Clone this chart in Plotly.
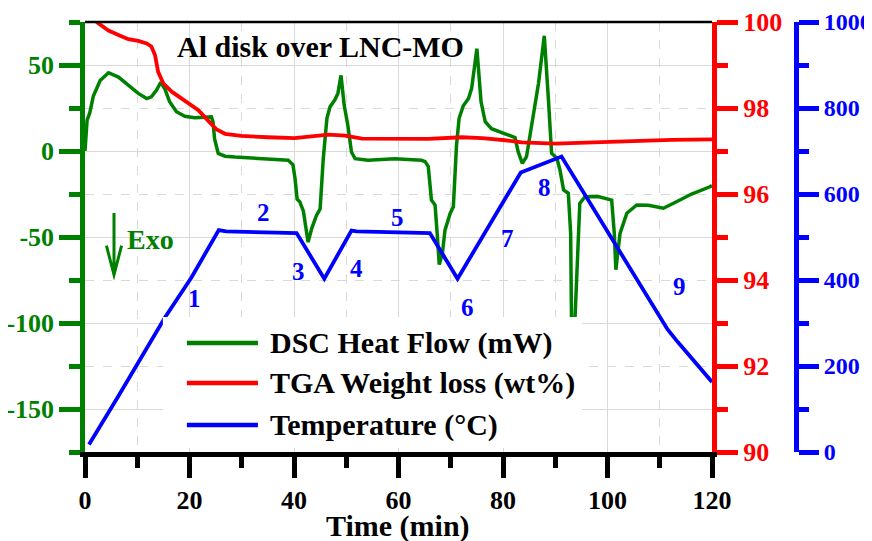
import plotly.graph_objects as go

# ---------------- data ----------------
time_dsc = [0, 0.4, 0.9, 1.6, 2.9, 4.5, 6.4, 8.3, 10.2, 11.8, 12.7, 13.7, 14.5, 15.3, 16.2,
            17.5, 19.1, 21.0, 22.9, 24.2, 24.5, 24.8, 25.5, 26.8, 28.7, 33.1, 38.9, 39.8,
            40.2, 40.6, 41.1, 41.8, 42.3, 42.7, 43.4, 44.3, 45.0, 45.6, 46.3, 46.9, 47.8,
            48.4, 49.0, 49.6, 50.3, 51.0, 51.7, 54.2, 59.3, 64.4, 65.1, 65.7, 66.3, 67.0,
            67.4, 67.8, 68.4, 68.9, 69.9, 70.5, 71.1, 71.6, 72.4, 73.4, 74.0, 74.5, 75.0,
            75.3, 75.8, 76.6, 77.8, 80.4, 82.3, 82.9, 83.7, 84.5, 85.5, 86.8, 87.9, 88.2,
            88.7, 89.3, 90.3, 90.9, 91.6, 92.5, 92.95, 93.1, 93.45, 93.8, 94.7, 95.7,
            98.2, 100.8, 101.3, 101.6, 102.4, 103.7, 105.6, 107.8, 109.4, 110.7, 113.2,
            116.1, 119.6, 120]
heat_flow = [0, 18, 22, 32, 41, 45.5, 43, 38, 33.5, 30.5, 31.5, 35.4, 40, 36, 28.6,
             22.8, 20.2, 19.3, 19.3, 19.8, 17, 7, -1.4, -3, -3.5, -4.5, -5.4, -8,
             -16, -28, -29.5, -35, -45, -53, -45, -37.5, -33.7, -4.5, 19, 25.7, 29.6,
             33.5, 44, 26.7, 15, -0.6, -4.5, -5.4, -4.5, -5.4, -6.2, -9, -28.5, -31.4,
             -47.9, -66, -59.5, -46, -36.2, -32.4, 3.3, 19, 26.3, 30.5, 36.4, 48, 59.5,
             48, 28.6, 17, 13, 10, 7.8, -0.4, -7.2, -3.3, 14, 39.4, 67, 54,
             29.6, -1.3, -4.2, -11, -22.7, -24.6, -47.9, -96, -140, -96, -30.4, -26.6,
             -26.5, -28.5, -47.9, -69, -47.9, -36.2, -31.4, -31.5, -32.4, -33.3, -29.5,
             -25, -20.8, -20]

time_tga = [2.2, 4.5, 6.4, 8.3, 10.2, 11.8, 12.7, 13.4, 14.0, 15.0, 16.6, 19.1, 21.7,
            23.6, 25.2, 26.8, 29.9, 35.0, 40.1, 46.6, 49.8, 53.0, 59.3, 65.7, 72.1, 76.0,
            80.4, 83.6, 90.0, 96.3, 105.9, 112.3, 120]
weight = [100.0, 99.8, 99.7, 99.6, 99.56, 99.5, 99.43, 99.23, 98.84, 98.57, 98.38, 98.16,
          97.95, 97.7, 97.5, 97.4, 97.35, 97.32, 97.3, 97.38, 97.36, 97.29, 97.28, 97.28,
          97.32, 97.3, 97.25, 97.2, 97.17, 97.2, 97.23, 97.26, 97.27]

time_temp = [0.77, 2.55, 6.4, 10.2, 15.3, 20.4, 25.6, 27.0, 33.0, 40.5, 45.8, 51.0, 52.0,
             60.0, 66.0, 71.3, 83.4, 91.2, 100.0, 105.9, 109.7, 111.5, 113.5, 116.7,
             119.4, 120]
temperature = [17.5, 52.5, 130, 208, 313, 406.5, 516, 513, 511, 509, 403, 515, 513,
               511, 509, 403, 650, 687, 511, 395, 318, 285, 255, 208, 170, 163]

series_names = ["DSC Heat Flow (mW)", "TGA Weight loss (wt%)", "Temperature (°C)"]
series_colors = ["#008000", "#ff0000", "#0000ff"]

stage_labels = ["1", "2", "3", "4", "5", "6", "7", "8", "9"]
stage_time = [21.0, 34.1, 40.8, 51.9, 59.9, 73.3, 80.9, 88.0, 113.7]
stage_level = [-85.5, -35.5, -70.3, -68.6, -38.4, -90.7, -50.6, -21.5, -79.0]

x_ticks = [0, 20, 40, 60, 80, 100, 120]
dsc_ticks = [-150, -100, -50, 0, 50]
dsc_ticktext = ["-150", "-100", "-50", "0", "50"]
tga_ticks = [90, 92, 94, 96, 98, 100]
temp_ticks = [0, 200, 400, 600, 800, 1000]

FONT = "Liberation Serif, Times New Roman, serif"
GRID = "#d9d9d9"

fig = go.Figure()
fig.add_trace(go.Scatter(x=time_dsc, y=heat_flow, mode="lines", name=series_names[0],
                         line=dict(color=series_colors[0], width=3.5), yaxis="y",
                         showlegend=False))
fig.add_trace(go.Scatter(x=time_tga, y=weight, mode="lines", name=series_names[1],
                         line=dict(color=series_colors[1], width=3.8), yaxis="y2",
                         showlegend=False))
fig.add_trace(go.Scatter(x=time_temp, y=temperature, mode="lines", name=series_names[2],
                         line=dict(color=series_colors[2], width=3.8), yaxis="y3",
                         showlegend=False))

tick_font = lambda c, s=26: dict(family=FONT, size=s, color=c, weight="bold")

# the page body adds an 8px offset, so the figure is 8px smaller and margins shifted
fig.update_layout(
    width=864, height=533,
    margin=dict(l=77, r=20, t=14, b=89, autoexpand=False),
    paper_bgcolor="white", plot_bgcolor="white",
    showlegend=False,
    xaxis=dict(
        domain=[0, 0.81747], range=[0, 120], tickvals=x_ticks, automargin=False,
        showline=True, linecolor="black", linewidth=4.5,
        ticks="outside", ticklen=21, tickwidth=4.5, tickcolor="black",
        tickfont=tick_font("black"), zeroline=False,
        showgrid=True, gridcolor=GRID, gridwidth=1,
        minor=dict(dtick=10, tick0=0, ticks="outside", ticklen=11, tickwidth=4.5,
                   tickcolor="black", showgrid=True, gridcolor=GRID, griddash="dash"),
    ),
    yaxis=dict(
        range=[-175, 75], tickvals=dsc_ticks, ticktext=dsc_ticktext, automargin=False,
        showline=True, linecolor="#008000", linewidth=4.5,
        ticks="outside", ticklen=21, tickwidth=4.5, tickcolor="#008000",
        tickfont=tick_font("#008000"), zeroline=False,
        showgrid=True, gridcolor=GRID, gridwidth=1,
        minor=dict(dtick=25, tick0=0, ticks="outside", ticklen=11, tickwidth=4.5,
                   tickcolor="#008000", showgrid=True, gridcolor=GRID, griddash="dash"),
    ),
    yaxis2=dict(
        overlaying="y", side="right", anchor="x", range=[90, 100], tickvals=tga_ticks,
        automargin=False,
        showline=True, linecolor="#ff0000", linewidth=5,
        ticks="outside", ticklen=21, tickwidth=4.5, tickcolor="#ff0000",
        tickfont=tick_font("#ff0000"), showgrid=False, zeroline=False,
        minor=dict(dtick=1, tick0=90, ticks="outside", ticklen=11, tickwidth=4.5,
                   tickcolor="#ff0000", showgrid=False),
    ),
    yaxis3=dict(
        overlaying="y", side="right", anchor="free", position=0.927,
        range=[0, 1000], tickvals=temp_ticks, automargin=False,
        showline=True, linecolor="#0000ff", linewidth=5,
        ticks="outside", ticklen=20, tickwidth=4.5, tickcolor="#0000ff",
        tickfont=tick_font("#0000ff", 24), showgrid=False, zeroline=False,
        minor=dict(dtick=100, tick0=0, ticks="outside", ticklen=10, tickwidth=4.5,
                   tickcolor="#0000ff", showgrid=False),
    ),
)

shapes = []
shapes.append(dict(type="line", xref="x domain", yref="y domain", x0=0, x1=1, y0=1, y1=1,
                   line=dict(color="black", width=2.5), layer="above"))
shapes.append(dict(type="rect", xref="x", yref="y", x0=14.9, x1=95.1, y0=-172.5, y1=-96.5,
                   fillcolor="white", line=dict(width=0), layer="above"))
legend_rows = [-111.6, -134.9, -159.3]
for name, col, yv in zip(series_names, series_colors, legend_rows):
    shapes.append(dict(type="line", xref="x", yref="y", x0=19.5, x1=33.1, y0=yv, y1=yv,
                       line=dict(color=col, width=4.5), layer="above"))
shapes.append(dict(type="path", xref="x", yref="y",
                   path="M 5.55,-36 L 5.55,-72 M 4.1,-55 L 5.55,-72 L 7.0,-55",
                   line=dict(color="#008000", width=3), layer="above"))

annotations = []
for name, yv in zip(series_names, legend_rows):
    annotations.append(dict(x=35.0, y=yv, xref="x", yref="y", text=name, showarrow=False,
                            xanchor="left", yanchor="middle",
                            font=dict(family=FONT, size=30, color="black", weight="bold")))
annotations.append(dict(x=45.0, y=60.5, xref="x", yref="y", text="Al disk over LNC-MO",
                        showarrow=False, xanchor="center", yanchor="middle",
                        font=dict(family=FONT, size=30, color="black", weight="bold")))
annotations.append(dict(x=12.6, y=-51.7, xref="x", yref="y", text="Exo", showarrow=False,
                        xanchor="center", yanchor="middle",
                        font=dict(family=FONT, size=28, color="#008000", weight="bold")))
for lab, tx, ty in zip(stage_labels, stage_time, stage_level):
    annotations.append(dict(x=tx, y=ty, xref="x", yref="y", text=lab, showarrow=False,
                            xanchor="center", yanchor="middle",
                            font=dict(family=FONT, size=25, color="#0000ff", weight="bold")))
# x-axis title
annotations.append(dict(x=0.5, y=-0.172, xref="x domain", yref="paper", text="Time (min)",
                        showarrow=False, xanchor="center", yanchor="middle",
                        font=dict(family=FONT, size=30, color="black", weight="bold")))

fig.update_layout(shapes=shapes, annotations=annotations)
fig.write_html("out.html")
